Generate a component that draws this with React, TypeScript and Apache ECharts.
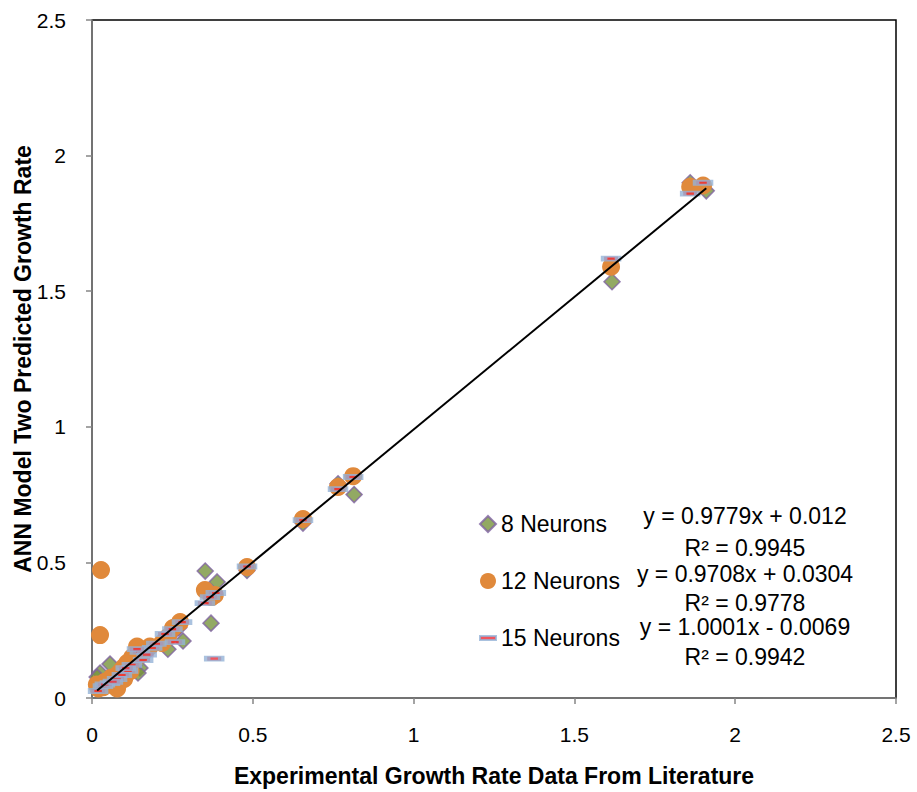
import React, { useEffect, useRef } from "react";
import * as echarts from "echarts";

// 8 Neurons (diamonds)
const n8X = [1.86, 1.91, 1.617, 0.815, 0.765, 0.656, 0.482, 0.389, 0.352, 0.37, 0.283, 0.27, 0.236, 0.25, 0.149, 0.143, 0.18, 0.12, 0.1, 0.085, 0.056, 0.025, 0.016, 0.04, 0.07, 0.11, 0.03, 0.06, 0.09, 0.13];
const n8Y = [1.90, 1.87, 1.535, 0.75, 0.79, 0.645, 0.47, 0.428, 0.468, 0.276, 0.21, 0.26, 0.18, 0.24, 0.111, 0.092, 0.18, 0.13, 0.1, 0.085, 0.125, 0.092, 0.077, 0.05, 0.07, 0.105, 0.06, 0.05, 0.07, 0.12];

// 12 Neurons (circles)
const n12X = [1.86, 1.90, 1.614, 0.812, 0.765, 0.656, 0.482, 0.351, 0.382, 0.372, 0.274, 0.252, 0.236, 0.218, 0.18, 0.14, 0.15, 0.125, 0.11, 0.1, 0.09, 0.078, 0.065, 0.078, 0.05, 0.035, 0.02, 0.028, 0.025, 0.1, 0.04, 0.06, 0.085, 0.12, 0.13, 0.015];
const n12Y = [1.885, 1.89, 1.59, 0.818, 0.778, 0.66, 0.483, 0.398, 0.38, 0.372, 0.28, 0.258, 0.225, 0.203, 0.19, 0.19, 0.16, 0.15, 0.13, 0.115, 0.1, 0.085, 0.065, 0.035, 0.05, 0.04, 0.035, 0.472, 0.232, 0.07, 0.06, 0.075, 0.06, 0.1, 0.14, 0.05];

// 15 Neurons (dashes)
const n15X = [1.90, 1.86, 1.614, 0.812, 0.765, 0.656, 0.482, 0.385, 0.367, 0.351, 0.38, 0.28, 0.25, 0.227, 0.258, 0.187, 0.149, 0.159, 0.124, 0.112, 0.093, 0.078, 0.056, 0.034, 0.019, 0.14, 0.04, 0.065, 0.105, 0.17, 0.2];
const n15Y = [1.90, 1.86, 1.62, 0.815, 0.77, 0.656, 0.485, 0.387, 0.372, 0.35, 0.145, 0.28, 0.254, 0.236, 0.206, 0.185, 0.17, 0.14, 0.122, 0.1, 0.085, 0.07, 0.055, 0.044, 0.026, 0.18, 0.05, 0.06, 0.11, 0.16, 0.2];

// Trendline (8 Neurons equation) and its x range
const trendCoef = [0.9779, 0.012];
const trendRange = [0.016, 1.91];

const seriesNames = ["8 Neurons", "12 Neurons", "15 Neurons"];
const equations = [
  "y = 0.9779x + 0.012",
  "R² = 0.9945",
  "y = 0.9708x + 0.0304",
  "R² = 0.9778",
  "y = 1.0001x - 0.0069",
  "R² = 0.9942",
];
const xTicks = [0, 0.5, 1, 1.5, 2, 2.5];

const zip = (xs: number[], ys: number[]) => xs.map((x, i) => [x, ys[i]]);

const FONT = "'Liberation Sans', Arial, sans-serif";

export default function App() {
  const ref = useRef<HTMLDivElement>(null);
  useEffect(() => {
    if (!ref.current) return;
    const chart = echarts.init(ref.current, null, { renderer: "svg" });
    const eqY = [516, 548, 574, 603, 627, 657];
    const axisCommon = {
      type: "value",
      min: xTicks[0],
      max: xTicks[xTicks.length - 1],
      interval: 0.5,
      axisLine: { show: true, lineStyle: { color: "#868686", width: 1.5 } },
      axisTick: { show: true, inside: false, length: 6, lineStyle: { color: "#868686", width: 1.5 } },
      splitLine: { show: false },
      nameMoveOverlap: false,
    };
    chart.setOption({
      animation: false,
      backgroundColor: "#ffffff",
      textStyle: { fontFamily: FONT },
      grid: {
        left: 92,
        top: 20,
        right: 21,
        bottom: 94,
        containLabel: false,
        outerBoundsMode: "none",
        show: true,
        borderColor: "#000000",
        borderWidth: 1.5,
        backgroundColor: "#ffffff",
      },
      xAxis: {
        ...axisCommon,
        name: "Experimental Growth Rate Data From Literature",
        nameLocation: "middle",
        nameGap: 66,
        nameTextStyle: { fontFamily: FONT, fontSize: 23, fontWeight: "bold", color: "#000" },
        axisLabel: { fontFamily: FONT, fontSize: 21, color: "#000", margin: 26 },
      },
      yAxis: {
        ...axisCommon,
        name: "ANN Model Two Predicted Growth Rate",
        nameLocation: "middle",
        nameGap: 58,
        nameTextStyle: { fontFamily: FONT, fontSize: 23, fontWeight: "bold", color: "#000" },
        axisLabel: { fontFamily: FONT, fontSize: 21, color: "#000", margin: 26 },
      },
      legend: {
        orient: "vertical",
        left: 474,
        top: 506,
        itemWidth: 16,
        itemHeight: 16,
        itemGap: 31,
        textStyle: { fontFamily: FONT, fontSize: 23, color: "#000", lineHeight: 26 },
        data: [
          { name: seriesNames[0], icon: "diamond" },
          { name: seriesNames[1], icon: "circle" },
          { name: seriesNames[2], icon: "path://M0,0h16v4h-16z" },
        ],
      },
      graphic: equations.map((t, i) => ({
        type: "text",
        x: 745,
        y: eqY[i],
        style: {
          text: t,
          fontFamily: FONT,
          fontSize: 23,
          fill: "#000",
          textAlign: "center",
          textVerticalAlign: "middle",
        },
        z: 100,
      })),
      series: [
        {
          name: seriesNames[0],
          type: "scatter",
          symbol: "diamond",
          symbolSize: 16,
          itemStyle: { color: "#77933C", borderColor: "#7F63A1", borderWidth: 1.5 },
          data: zip(n8X, n8Y),
          z: 2,
        },
        {
          name: seriesNames[1],
          type: "scatter",
          symbol: "circle",
          symbolSize: 18,
          itemStyle: { color: "#E0893B", opacity: 1 },
          data: zip(n12X, n12Y),
          z: 3,
        },
        {
          name: seriesNames[2],
          type: "scatter",
          symbol: "rect",
          symbolSize: [14, 4],
          itemStyle: { color: "#EE2A36", borderColor: "#95B3D7", borderWidth: 3.5 },
          data: zip(n15X, n15Y),
          z: 4,
        },
        {
          name: "trend",
          type: "line",
          symbol: "none",
          silent: true,
          lineStyle: { color: "#000", width: 2 },
          data: trendRange.map((x) => [x, trendCoef[0] * x + trendCoef[1]]),
          z: 5,
        },
      ],
    });
    return () => chart.dispose();
  }, []);
  return (
    <div
      ref={ref}
      style={{ position: "fixed", left: 0, top: 0, width: 917, height: 792, background: "#fff" }}
    />
  );
}
